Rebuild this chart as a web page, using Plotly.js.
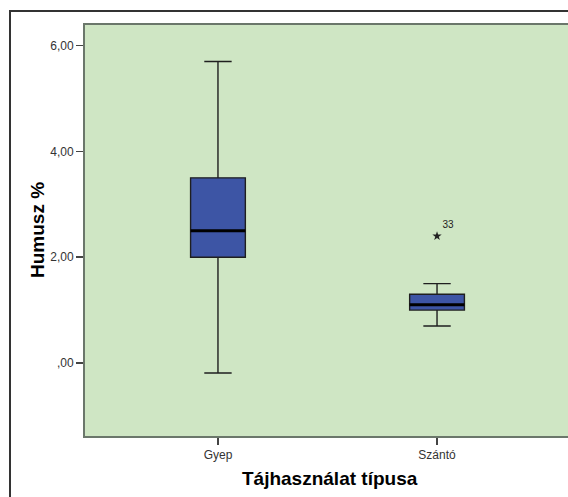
<!DOCTYPE html>
<html>
<head>
<meta charset="utf-8">
<script src="https://cdn.plot.ly/plotly-3.0.1.min.js"></script>
<style>
html, body { margin:0; padding:0; width:568px; height:497px; overflow:hidden; background:#fff; }
#frame { position:absolute; left:9px; top:10px; width:700px; height:600px; border:2px solid #333; box-sizing:border-box; }
#chart { position:absolute; left:0; top:0; width:580px; height:497px; }
</style>
</head>
<body>
<div id="frame"></div>
<div id="chart"></div>
<script>
const categories = ['Gyep', 'Szántó'];
const lowerFence = [-0.19, 0.70];
const q1Values = [2.00, 1.00];
const medianValues = [2.50, 1.10];
const q3Values = [3.50, 1.30];
const upperFence = [5.70, 1.50];
const outlierCategory = ['Szántó'];
const outlierValues = [2.40];
const outlierLabels = ['33'];
const yTickValues = [0, 2, 4, 6];
const yTickLabels = [',00', '2,00', '4,00', '6,00'];
const xTitle = 'Tájhasználat típusa';
const yTitle = 'Humusz %';

const boxWidth = 0.25;

const traces = [
  {
    type: 'box',
    x: categories,
    q1: q1Values,
    median: medianValues,
    q3: q3Values,
    lowerfence: lowerFence,
    upperfence: upperFence,
    width: boxWidth,
    whiskerwidth: 0.5,
    fillcolor: '#3d55a5',
    line: { color: '#1f1f1f', width: 1.4 },
    boxpoints: false,
    hoverinfo: 'skip',
    showlegend: false
  },
  {
    type: 'scatter',
    mode: 'markers+text',
    x: outlierCategory,
    y: outlierValues,
    text: outlierLabels,
    textposition: 'top right',
    textfont: { family: 'Liberation Sans, Arial, sans-serif', size: 10, color: '#222' },
    marker: { symbol: 'star', size: 7, color: '#222' },
    hoverinfo: 'skip',
    showlegend: false
  }
];

const shapes = categories.map((c, i) => ({
  type: 'line', xref: 'x', yref: 'y',
  x0: i - boxWidth / 2, x1: i + boxWidth / 2,
  y0: medianValues[i], y1: medianValues[i],
  line: { color: '#000', width: 3 }
}));

const layout = {
  width: 580,
  height: 497,
  margin: { l: 85, r: 10, t: 25, b: 61, pad: 0 },
  paper_bgcolor: 'rgba(0,0,0,0)',
  plot_bgcolor: '#cfe6c4',
  font: { family: 'Liberation Sans, Arial, sans-serif', color: '#333' },
  xaxis: {
    type: 'category',
    range: [-0.607, 1.607],
    showgrid: false,
    zeroline: false,
    showline: true,
    mirror: true,
    linecolor: '#6b776b',
    linewidth: 2,
    ticks: 'outside',
    ticklen: 7,
    tickcolor: '#444',
    tickwidth: 1.5,
    tickfont: { size: 12, color: '#333' },
    fixedrange: true
  },
  yaxis: {
    range: [-1.38, 6.39],
    tickvals: yTickValues,
    ticktext: yTickLabels,
    showgrid: false,
    zeroline: false,
    showline: true,
    mirror: true,
    linecolor: '#6b776b',
    linewidth: 2,
    ticks: 'outside',
    ticklen: 7,
    tickcolor: '#444',
    tickwidth: 1.5,
    tickfont: { size: 12, color: '#333' },
    fixedrange: true
  },
  shapes: shapes,
  annotations: [
    {
      text: yTitle, xref: 'paper', yref: 'paper', x: 0, y: 0.5,
      xanchor: 'center', yanchor: 'middle', xshift: -47.5, textangle: -90,
      showarrow: false, font: { size: 19, color: '#000', weight: 'bold' }
    },
    {
      text: xTitle, xref: 'paper', yref: 'paper', x: 0.5, y: 0,
      xanchor: 'center', yanchor: 'middle', xshift: 2, yshift: -42,
      showarrow: false, font: { size: 19, color: '#000', weight: 'bold' }
    }
  ]
};

Plotly.newPlot('chart', traces, layout, { displayModeBar: false, staticPlot: true });
</script>
</body>
</html>
